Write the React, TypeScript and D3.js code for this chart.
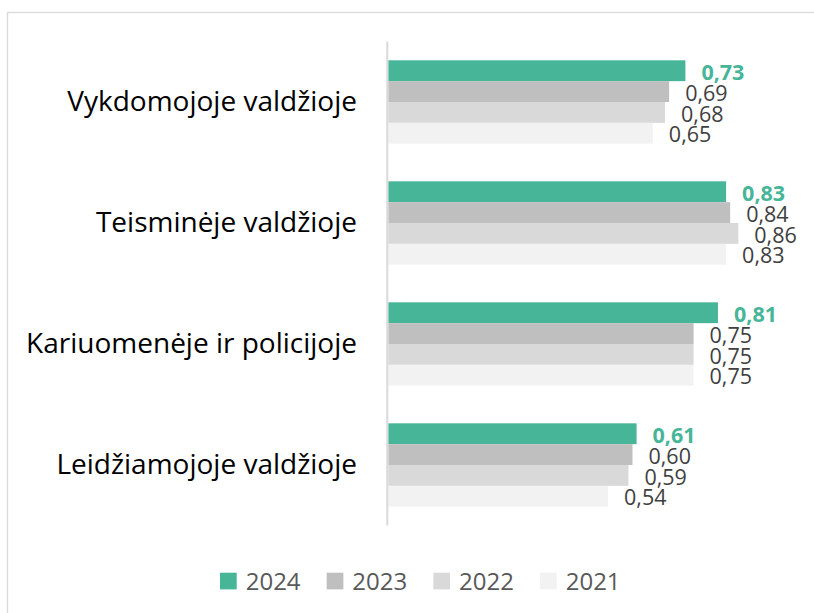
import React from "react";
import * as d3 from "d3";

const categories = [
  "Vykdomojoje valdžioje",
  "Teisminėje valdžioje",
  "Kariuomenėje ir policijoje",
  "Leidžiamojoje valdžioje",
];
const years = ["2024", "2023", "2022", "2021"];
const values2024 = [0.73, 0.83, 0.81, 0.61];
const values2023 = [0.69, 0.84, 0.75, 0.6];
const values2022 = [0.68, 0.86, 0.75, 0.59];
const values2021 = [0.65, 0.83, 0.75, 0.54];
const seriesValues = [values2024, values2023, values2022, values2021];
const colors = ["#47B598", "#BFBFBF", "#D9D9D9", "#F2F2F2"];

const FONT = "'Open Sans', sans-serif";

export default function App() {
  const x = d3.scaleLinear().domain([0, 1]).range([388.3, 388.3 + 407]);
  const y = d3
    .scaleBand<string>()
    .domain(categories)
    .range([41.5, 525.5])
    .paddingInner(0.311)
    .paddingOuter(0.1555);
  const ySub = d3.scaleBand<string>().domain(years).range([0, y.bandwidth()]);
  const fmt = (v: number) => d3.format(".2f")(v).replace(".", ",");

  const catFont = 28;
  const valFont = 21.5;
  const legFont = 24;

  const legendX = d3.scaleLinear().domain([0, 1]).range([220, 326.67]);

  return (
    <svg
      width={814}
      height={613}
      style={{ position: "absolute", left: 0, top: 0, background: "#fff" }}
    >
      <rect x={7.5} y={12.5} width={820} height={620} fill="#fff" stroke="#D9D9D9" strokeWidth={1.3} />
      {categories.map((c) => {
        const cy = (y(c) as number) + y.bandwidth() / 2;
        return (
          <text
            key={c}
            x={357}
            y={cy - 1 + 0.357 * catFont}
            textAnchor="end"
            fontFamily={FONT}
            fontSize={catFont}
            fill="#000"
          >
            {c}
          </text>
        );
      })}
      {seriesValues.map((vals, si) =>
        vals.map((v, ci) => {
          const top = (y(categories[ci]) as number) + (ySub(years[si]) as number);
          const h = ySub.bandwidth();
          const cy = top + h / 2;
          return (
            <g key={`${si}-${ci}`}>
              <rect x={x(0)} y={top} width={x(v) - x(0)} height={h} fill={colors[si]} />
              <text
                x={x(v) + 16}
                y={cy + 1.5 + 0.357 * valFont}
                fontFamily={FONT}
                fontSize={valFont}
                fontWeight={si === 0 ? 700 : 400}
                fill={si === 0 ? colors[0] : "#404040"}
              >
                {fmt(v)}
              </text>
            </g>
          );
        })
      )}
      <line x1={387.3} x2={387.3} y1={41.5} y2={525.5} stroke="#D9D9D9" strokeWidth={2} />
      {years.map((yr, i) => (
        <g key={yr}>
          <rect x={legendX(i)} y={572.7} width={16.7} height={16.7} fill={colors[i]} />
          <text
            x={legendX(i) + 25.7}
            y={589.5}
            fontFamily={FONT}
            fontSize={legFont}
            fill="#595959"
          >
            {yr}
          </text>
        </g>
      ))}
    </svg>
  );
}
